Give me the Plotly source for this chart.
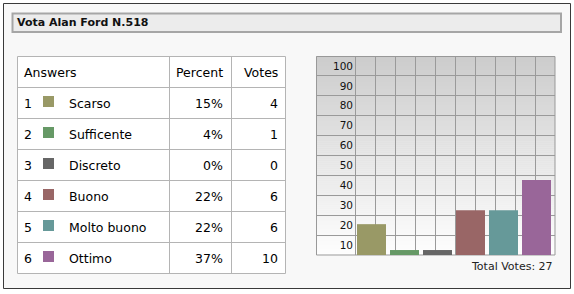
import plotly.graph_objects as go

# ---------------- data ----------------
title = "Vota Alan Ford N.518"
answers = ["Scarso", "Sufficente", "Discreto", "Buono", "Molto buono", "Ottimo"]
percents = [15, 4, 0, 22, 22, 37]
votes = [4, 1, 0, 6, 6, 10]
# bar heights as drawn in the picture (percent units, min visible height)
bar_drawn = [15.5, 2.5, 2.5, 22.5, 22.5, 37.7]
colors = ["#999966", "#669966", "#666666", "#996666", "#669999", "#996699"]
y_tick_vals = [95, 85, 75, 65, 55, 45, 35, 25, 15, 5]
y_tick_text = ["100", "90", "80", "70", "60", "50", "40", "30", "20", "10"]
total_label = "Total Votes: 27"
headers = ["Answers", "Percent", "Votes"]

W, H = 574, 294
FONT = "DejaVu Sans"


def X(px):
    return px / W


def Y(py):
    return 1 - py / H


shapes = []
annotations = []


def rect(x0, y0, x1, y1, fill=None, line=None, lw=1):
    shapes.append(dict(type="rect", xref="paper", yref="paper",
                       x0=X(x0), x1=X(x1), y0=Y(y0), y1=Y(y1),
                       fillcolor=fill if fill else "rgba(0,0,0,0)",
                       line=dict(color=line if line else "rgba(0,0,0,0)", width=lw if line else 0),
                       layer="below"))


def hline(x0, x1, y, color, lw=1):
    shapes.append(dict(type="line", xref="paper", yref="paper",
                       x0=X(x0), x1=X(x1), y0=Y(y), y1=Y(y),
                       line=dict(color=color, width=lw), layer="below"))


def vline(x, y0, y1, color, lw=1):
    shapes.append(dict(type="line", xref="paper", yref="paper",
                       x0=X(x), x1=X(x), y0=Y(y0), y1=Y(y1),
                       line=dict(color=color, width=lw), layer="below"))


def text(x, y, s, anchor="left", size=12, bold=False, color="#000000"):
    annotations.append(dict(xref="paper", yref="paper", x=X(x), y=Y(y),
                            text=f"<b>{s}</b>" if bold else s, showarrow=False,
                            xanchor=anchor, yanchor="middle",
                            font=dict(family=FONT, size=size, color=color)))


# outer box
rect(3.5, 3.5, 570.5, 288.5, fill="#f8f8f8", line="#3a3a3a", lw=1)
# title box
rect(12.5, 13.5, 561, 32, fill="#ececec", line="#a6a6a6", lw=2)
text(15, 22.5, title, size=11, bold=True, color="#111111")

# ---------------- table ----------------
tx0, tx1 = 17.5, 285.5
col1, col2 = 169.5, 231.5
row_top = 56.5
row_h = 31
n_rows = len(answers) + 1
ty1 = row_top + row_h * n_rows
rect(tx0, row_top, tx1, ty1, fill="#ffffff", line="#b4b4b4", lw=1)
for r in range(1, n_rows):
    hline(tx0, tx1, row_top + r * row_h, "#b4b4b4")
vline(col1, row_top, ty1, "#b4b4b4")
vline(col2, row_top, ty1, "#b4b4b4")

tsize = 12.5
cy = row_top + row_h / 2
text(22, cy, headers[0], size=tsize)
text(225, cy, headers[1], anchor="right", size=tsize)
text(280, cy, headers[2], anchor="right", size=tsize)
for i, (a, p, v, c) in enumerate(zip(answers, percents, votes, colors)):
    cy = row_top + row_h * (i + 1) + row_h / 2
    text(22, cy, str(i + 1), size=tsize)
    rect(43, cy - 7, 54, cy + 4, fill=c)
    text(67, cy, a, size=tsize)
    text(225, cy, f"{p}%", anchor="right", size=tsize)
    text(280, cy, str(v), anchor="right", size=tsize)

# ---------------- chart background ----------------
cx0, cx1 = 316, 555
cy0, cy1 = 56, 255
steps = 100
for k in range(steps):
    t = k / (steps - 1)
    g = int(round(0xcc + (0xfe - 0xcc) * t))
    col = f"rgb({g},{g},{g})"
    ya = cy0 + (cy1 - cy0) * k / steps
    yb = cy0 + (cy1 - cy0) * (k + 1) / steps + 0.3
    rect(cx0, ya, cx1, yb, fill=col)

gridc = "#9a9a9a"
for k in range(1, 10):
    hline(cx0, cx1, cy0 + 20 * k - 0.5, gridc)
for k in range(10):
    vline(356 + 20 * k - 0.5, cy0, cy1, gridc)
rect(cx0 + 0.5, cy0 + 0.5, cx1, cy1, line="#999999", lw=1)

text(555, 266, total_label, anchor="right", size=11, color="#222222")

# ---------------- bars ----------------
fig = go.Figure()
fig.add_trace(go.Bar(
    x=list(range(len(answers))), y=bar_drawn, width=29 / 33,
    marker=dict(color=colors, line=dict(width=0)),
    hoverinfo="skip", showlegend=False,
))

left_px, right_px = 356, 555
center0 = 371.5
step = 33
fig.update_layout(
    width=W, height=H,
    margin=dict(l=0, r=0, t=0, b=0),
    paper_bgcolor="#ffffff",
    plot_bgcolor="rgba(0,0,0,0)",
    shapes=shapes,
    annotations=annotations,
    xaxis=dict(domain=[X(left_px), X(right_px)],
               range=[(left_px - center0) / step, (right_px - center0) / step],
               showgrid=False, zeroline=False, showline=False,
               showticklabels=False, ticks="", fixedrange=True),
    yaxis=dict(domain=[Y(cy1), Y(cy0)], range=[0, 100],
               tickvals=y_tick_vals, ticktext=y_tick_text,
               tickfont=dict(family=FONT, size=10.5, color="#111111"),
               showgrid=False, zeroline=False, showline=False,
               ticks="", ticklabelstandoff=2, fixedrange=True),
)

fig.write_html("out.html")
